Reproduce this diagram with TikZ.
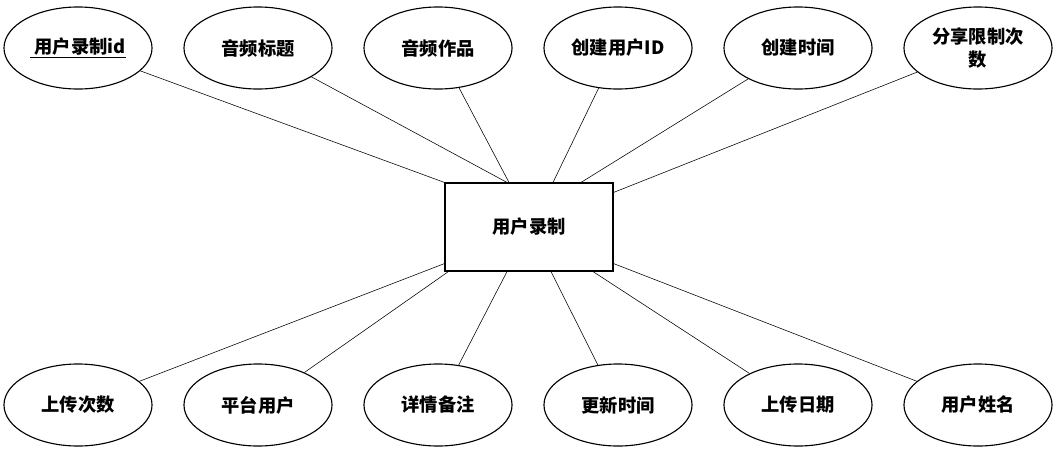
\documentclass[tikz,border=0pt]{standalone}
\usepackage{fontspec}
\newfontfamily\cjk{Noto Sans CJK SC}
\usetikzlibrary{shapes,positioning}
\begin{document}
\begin{tikzpicture}[x=0.025cm,y=-0.025cm,
  attr/.style={ellipse,draw,thick,minimum width=3.7cm,minimum height=2.05cm,inner sep=0pt,align=center,font=\cjk\bfseries\fontsize{13}{16}\selectfont},
  ent/.style={rectangle,draw,thick,minimum width=4.2cm,minimum height=2.2cm,font=\cjk\bfseries\fontsize{13}{16}\selectfont}]
  \useasboundingbox (0,0) rectangle (1057,454);
  \node[ent]  (r)  at (529,227) {用户录制};
  % top row
  \node[attr] (t1) at (78,48)  {\underline{\ 用户录制id}};
  \node[attr] (t2) at (258,48) {音频标题};
  \node[attr] (t3) at (438,48) {音频作品};
  \node[attr] (t4) at (618,48) {创建用户ID};
  \node[attr] (t5) at (798,48) {创建时间};
  \node[attr] (t6) at (978,48) {分享限制次\\数};
  % bottom row
  \node[attr] (b1) at (78,405)  {上传次数};
  \node[attr] (b2) at (258,405) {平台用户};
  \node[attr] (b3) at (438,405) {详情备注};
  \node[attr] (b4) at (618,405) {更新时间};
  \node[attr] (b5) at (798,405) {上传日期};
  \node[attr] (b6) at (978,405) {用户姓名};

  \path[draw]
    (t1) -- (r.north west)
    (t2) -- ([xshift=-0.55cm]r.north)
    (t3) -- ([xshift=-0.5cm]r.north)
    (t4) -- ([xshift=0.6cm]r.north)
    (t5) -- ([xshift=1.3cm]r.north)
    (t6) -- ([yshift=-0.25cm]r.north east)
    (b1) -- ([yshift=0.2cm]r.south west)
    (b2) -- ([xshift=0.1cm]r.south west)
    (b3) -- ([xshift=-0.55cm]r.south)
    (b4) -- ([xshift=0.55cm]r.south)
    (b5) -- ([xshift=1.6cm]r.south)
    (b6) -- ([yshift=0.2cm]r.south east);
\end{tikzpicture}
\end{document}
